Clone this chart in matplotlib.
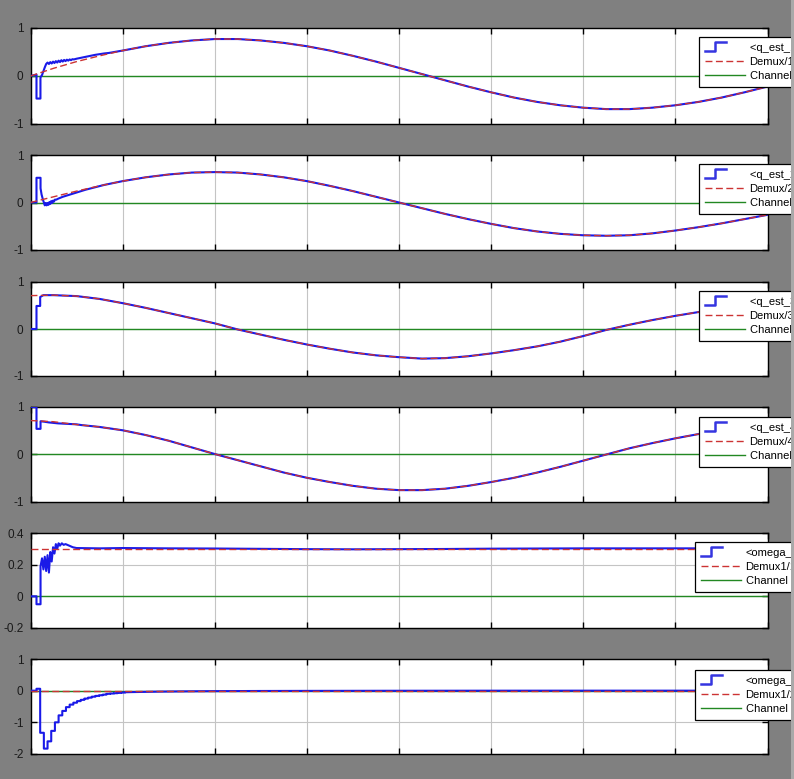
import numpy as np
import matplotlib
matplotlib.use("Agg")
import matplotlib.pyplot as plt
from matplotlib.lines import Line2D
from matplotlib.legend_handler import HandlerBase
from matplotlib.ticker import FuncFormatter
from matplotlib.patches import Rectangle

plt.rcParams['font.family'] = ['Liberation Sans', 'DejaVu Sans']
plt.rcParams['axes.unicode_minus'] = False

# ---------------- data ----------------
t_ref = np.arange(0, 8.001, 0.25)

q1_ref = [0.00, 0.16, 0.30, 0.42, 0.53, 0.62, 0.69, 0.74, 0.77, 0.77, 0.74, 0.69, 0.62,
          0.53, 0.42, 0.30, 0.17, 0.04, -0.09, -0.22, -0.34, -0.45, -0.54, -0.61, -0.66,
          -0.69, -0.69, -0.66, -0.61, -0.54, -0.45, -0.34, -0.22]
q2_ref = [0.00, 0.12, 0.24, 0.35, 0.45, 0.53, 0.59, 0.63, 0.64, 0.63, 0.59, 0.53, 0.45,
          0.35, 0.24, 0.12, 0.00, -0.12, -0.24, -0.35, -0.45, -0.54, -0.61, -0.66, -0.69,
          -0.70, -0.69, -0.65, -0.59, -0.52, -0.44, -0.35, -0.26]
q3_ref = [0.71, 0.72, 0.70, 0.64, 0.55, 0.45, 0.34, 0.23, 0.12, -0.01, -0.12, -0.23, -0.33,
          -0.42, -0.50, -0.56, -0.60, -0.63, -0.62, -0.58, -0.52, -0.45, -0.37, -0.27, -0.15,
          -0.02, 0.09, 0.19, 0.28, 0.36, 0.43, 0.48, 0.52]
q4_ref = [0.715, 0.69, 0.63, 0.58, 0.51, 0.41, 0.29, 0.15, 0.01, -0.12, -0.25, -0.38, -0.49,
          -0.58, -0.66, -0.72, -0.75, -0.75, -0.72, -0.66, -0.58, -0.49, -0.38, -0.26, -0.13,
          0.00, 0.13, 0.24, 0.34, 0.43, 0.50, 0.55, 0.59]
w1_ref = 0.3
w2_ref = 0.0

# estimator transients (time, value); after the last point the estimate follows the reference
q1_est_t = [0, 0.065, 0.065, 0.108, 0.108, 0.125, 0.14, 0.155, 0.17, 0.185, 0.20, 0.215, 0.23,
            0.245, 0.26, 0.275, 0.29, 0.305, 0.32, 0.335, 0.35, 0.365, 0.38, 0.395, 0.41, 0.425,
            0.44, 0.455, 0.47, 0.50, 0.55, 0.60, 0.65, 0.70, 0.75, 0.80, 0.85]
q1_est_v = [0.0, 0.03, -0.47, -0.47, -0.03, 0.02, 0.10, 0.18, 0.25, 0.28, 0.25, 0.29, 0.26,
            0.30, 0.27, 0.31, 0.28, 0.32, 0.29, 0.33, 0.30, 0.335, 0.31, 0.34, 0.32, 0.345,
            0.33, 0.35, 0.345, 0.36, 0.38, 0.40, 0.42, 0.44, 0.455, 0.47, 0.48]
q2_est_t = [0, 0.065, 0.065, 0.109, 0.109, 0.12, 0.135, 0.145, 0.155, 0.165, 0.175, 0.185, 0.195,
            0.205, 0.215, 0.225, 0.235, 0.245, 0.255, 0.265, 0.28, 0.30, 0.35, 0.40, 0.50, 0.60,
            0.70, 0.80]
q2_est_v = [0.0, 0.0, 0.52, 0.52, 0.30, 0.17, 0.06, 0.0, -0.06, -0.01, -0.06, -0.01, -0.05,
            0.01, -0.03, 0.03, -0.01, 0.04, 0.02, 0.06, 0.06, 0.08, 0.12, 0.15, 0.21, 0.27,
            0.32, 0.37]
q3_est_t = [0, 0.065, 0.065, 0.105, 0.105, 0.14, 0.25]
q3_est_v = [0.0, 0.0, 0.49, 0.49, 0.68, 0.72, 0.72]
q4_est_t = [0, 0.065, 0.065, 0.109, 0.109, 0.15, 0.20, 0.25, 0.30, 0.35, 0.40, 0.45, 0.50, 0.55]
q4_est_v = [1.0, 1.0, 0.54, 0.54, 0.70, 0.69, 0.675, 0.665, 0.655, 0.65, 0.645, 0.64, 0.635, 0.62]

w1_est_t = [0, 0.065, 0.065, 0.109, 0.109, 0.125, 0.14, 0.155, 0.17, 0.185, 0.20, 0.215, 0.23,
            0.245, 0.26, 0.275, 0.29, 0.305, 0.32, 0.34, 0.36, 0.38, 0.42, 0.46, 0.5, 0.75,
            1.0, 1.5, 2, 2.5, 3, 3.5, 4, 4.5, 5, 5.5, 6, 6.5, 7, 7.5, 8]
w1_est_v = [0, 0, -0.05, -0.05, 0.19, 0.24, 0.17, 0.25, 0.16, 0.26, 0.15, 0.28, 0.22, 0.31,
            0.27, 0.33, 0.30, 0.335, 0.32, 0.335, 0.325, 0.33, 0.32, 0.31, 0.305, 0.303,
            0.305, 0.303, 0.302, 0.300, 0.298, 0.297, 0.298, 0.299, 0.301, 0.302, 0.303,
            0.303, 0.303, 0.303, 0.303]
# zero-order-hold part of omega_2 estimate (sample start times and held values)
w2_step_t = [0, 0.025, 0.065, 0.105, 0.145, 0.185, 0.225, 0.265, 0.305, 0.345, 0.385, 0.425,
             0.465, 0.505, 0.545, 0.585, 0.625, 0.665, 0.705, 0.745, 0.785, 0.825, 0.865,
             0.905, 0.945, 0.985]
w2_step_v = [0, 0, 0.06, -1.33, -1.83, -1.60, -1.27, -1.00, -0.78, -0.64, -0.52, -0.44, -0.38,
             -0.33, -0.29, -0.25, -0.22, -0.19, -0.165, -0.145, -0.125, -0.10, -0.09, -0.08,
             -0.07, -0.06]
# slowly settling tail of omega_2 estimate
w2_tail_t = [1.025, 1.1, 1.2, 1.3, 1.4, 1.6, 1.8, 2.0, 2.5, 3.0, 3.5, 4.0, 5, 6, 7, 8]
w2_tail_v = [-0.05, -0.045, -0.04, -0.035, -0.03, -0.024, -0.019, -0.015, -0.01, -0.007,
             -0.005, -0.003, -0.001, 0.0, 0.0, 0.0]

q_labels = [["<q_est_1> (1)", "Demux/1", "Channel 1"],
            ["<q_est_2> (2)", "Demux/2", "Channel 2"],
            ["<q_est_3> (3)", "Demux/3", "Channel 3"],
            ["<q_est_4> (4)", "Demux/4", "Channel 4"]]
w_labels = [["<omega_est_1>", "Demux1/1", "Channel 1"],
            ["<omega_est_2>", "Demux1/2", "Channel 2"]]

yticks = [[-1, 0, 1]] * 4 + [[-0.2, 0, 0.2, 0.4], [-2, -1, 0, 1]]
ylims = [(-1, 1)] * 4 + [(-0.2, 0.4), (-2, 1)]

# ---------------- styling ----------------
BLUE = '#1a1ae8'
RED = '#cc3333'
GREEN = '#228822'
W, H = 794, 779

fig = plt.figure(figsize=(W / 100, H / 100), dpi=100, facecolor='#808080')

# axes boxes in pixels: (top, bottom)
boxes = [(28, 124), (155, 250), (282, 376), (407, 502), (533, 628), (659, 754)]
legend_pos = [(699, 37), (699, 164), (699, 291), (699, 417), (695, 542), (695, 670)]
left_px, right_px = 30.5, 767.5


class StepHandler(HandlerBase):
    def create_artists(self, legend, orig_handle, xdescent, ydescent, width, height,
                       fontsize, trans):
        x0, y0 = -xdescent, -ydescent
        xs = [x0, x0 + 0.27 * width, x0 + 0.27 * width, x0 + 0.53 * width]
        ys = [y0 - 0.05 * height, y0 - 0.05 * height, y0 + 1.05 * height, y0 + 1.05 * height]
        ln = Line2D(xs, ys, color='#3535e0', lw=1.8)
        ln.set_transform(trans)
        return [ln]


def join(est_t, est_v, ref):
    t_last = est_t[-1]
    mask = t_ref > t_last + 1e-9
    return (np.concatenate([est_t, t_ref[mask]]), np.concatenate([est_v, np.asarray(ref)[mask]]))


def hold_then_line(st, sv, tt, tv):
    xs, ys = [], []
    nxt = list(st[1:]) + [tt[0]]
    for a, b, v in zip(st, nxt, sv):
        xs += [a, b]
        ys += [v, v]
    return np.array(xs + list(tt)), np.array(ys + list(tv))


series = []
for est_t, est_v, ref in [(q1_est_t, q1_est_v, q1_ref), (q2_est_t, q2_est_v, q2_ref),
                          (q3_est_t, q3_est_v, q3_ref), (q4_est_t, q4_est_v, q4_ref)]:
    bt, bv = join(est_t, est_v, ref)
    series.append((bt, bv, t_ref, np.asarray(ref)))
series.append((np.asarray(w1_est_t), np.asarray(w1_est_v), t_ref,
               np.full(len(t_ref), w1_ref)))
bt, bv = hold_then_line(w2_step_t, w2_step_v, w2_tail_t, w2_tail_v)
series.append((bt, bv, t_ref, np.full(len(t_ref), w2_ref)))

labels_all = q_labels + w_labels
fmt = FuncFormatter(lambda v, p: ('%g' % v) if abs(v) > 1e-12 else '0')

for i, ((top, bot), (bt, bv, rt, rv)) in enumerate(zip(boxes, series)):
    ax = fig.add_axes([left_px / W, 1 - bot / H, (right_px - left_px) / W, (bot - top) / H])
    ax.set_facecolor('white')
    ax.plot(rt, np.zeros(len(rt)), color=GREEN, lw=1.0, zorder=2)
    ax.plot(bt, bv, color=BLUE, lw=1.5, zorder=3)
    ax.plot(rt, rv, color=RED, lw=1.0, ls=(0, (5, 2.5)), zorder=4)
    ax.set_xlim(0, 8)
    ax.set_ylim(*ylims[i])
    ax.set_xticks(np.arange(0, 9, 1))
    ax.set_yticks(yticks[i])
    ax.yaxis.set_major_formatter(fmt)
    ax.set_xticklabels([])
    ax.grid(True, color='#c4c4c4', lw=0.8)
    ax.set_axisbelow(True)
    ax.tick_params(direction='in', length=4, width=1, top=True, right=True,
                   labelsize=8.5, labelcolor='#1a1a1a', pad=5)
    for s in ax.spines.values():
        s.set_linewidth(1.0)
        s.set_color('black')
    h_blue = Line2D([], [], color=BLUE)
    h_red = Line2D([], [], color=RED, lw=1.0, ls=(0, (5, 2.5)))
    h_green = Line2D([], [], color=GREEN, lw=1.0)
    lx, ly = legend_pos[i]
    leg = ax.legend([h_blue, h_red, h_green], labels_all[i], loc='upper left',
                    bbox_to_anchor=(lx / W, 1 - ly / H), bbox_transform=fig.transFigure,
                    borderaxespad=0, fontsize=8, handlelength=3.6, handletextpad=0.45,
                    labelspacing=0.39, borderpad=0.5, fancybox=False, framealpha=1,
                    edgecolor='black', handler_map={h_blue: StepHandler()})
    leg.get_frame().set_linewidth(0.9)
    leg.set_zorder(10)

fig.patches.append(Rectangle((791 / W, 0), 3 / W, 1, transform=fig.transFigure,
                             facecolor='#a9a9a9', edgecolor='none', zorder=20))

fig.savefig('out.png', dpi=100, facecolor=fig.get_facecolor())
